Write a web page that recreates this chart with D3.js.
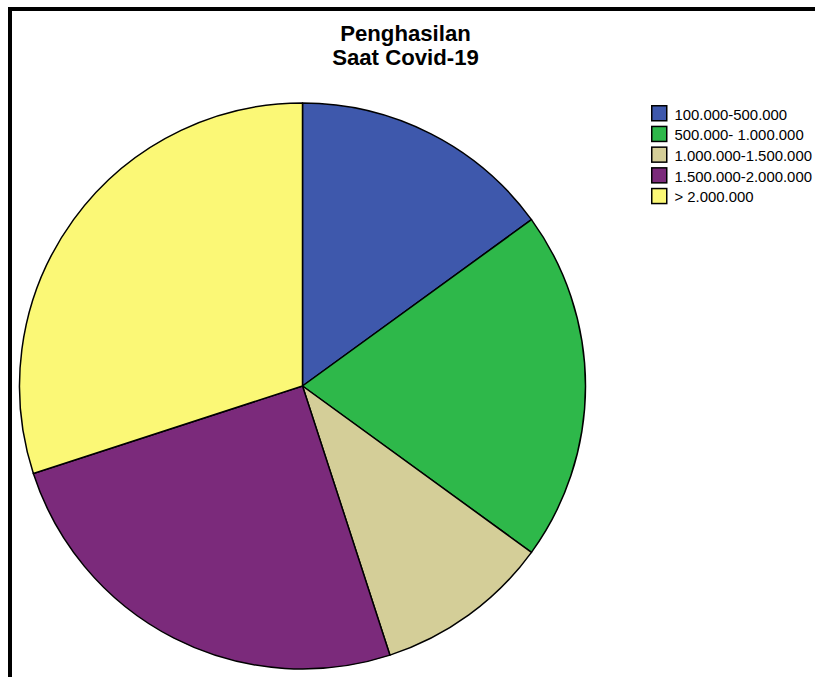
<!DOCTYPE html>
<html>
<head>
<meta charset="utf-8">
<script src="https://cdn.jsdelivr.net/npm/d3@7"></script>
<style>
html,body{margin:0;padding:0;background:#fff;}
svg{display:block;}
</style>
</head>
<body>
<svg id="chart" width="815" height="677"></svg>
<script>
const titleLines = ["Penghasilan", "Saat Covid-19"];
const categories = ["100.000-500.000", "500.000- 1.000.000", "1.000.000-1.500.000", "1.500.000-2.000.000", "> 2.000.000"];
const values = [15, 20, 10, 25, 30];
const colors = ["#3e58ac", "#2eb84a", "#d4ce98", "#7b2a7b", "#fbf876"];

const svg = d3.select("#chart");
const font = "Liberation Sans, Arial, Helvetica, sans-serif";

// frame
svg.append("rect")
  .attr("x", 10).attr("y", 9)
  .attr("width", 900).attr("height", 800)
  .attr("fill", "none").attr("stroke", "#000").attr("stroke-width", 4);

// title
const title = svg.append("text")
  .attr("x", 405.5).attr("y", 40.7)
  .attr("text-anchor", "middle")
  .attr("font-family", font).attr("font-weight", "bold").attr("font-size", "22.2px")
  .attr("fill", "#000");
title.selectAll("tspan").data(titleLines).join("tspan")
  .attr("x", 405.5).attr("dy", (d, i) => i === 0 ? 0 : 24.6)
  .text(d => d);

// pie
const cx = 302.5, cy = 386, r = 283;
const pie = d3.pie().sort(null).value(d => d)(values);
const arc = d3.arc().innerRadius(0).outerRadius(r);
const color = d3.scaleOrdinal().domain(categories).range(colors);

svg.append("g").attr("transform", `translate(${cx},${cy})`)
  .selectAll("path").data(pie).join("path")
  .attr("d", arc)
  .attr("fill", (d, i) => color(categories[i]))
  .attr("stroke", "#000").attr("stroke-width", 1.5).attr("stroke-linejoin", "round");

// legend
const lg = svg.append("g").attr("transform", "translate(651,105)");
const rows = lg.selectAll("g").data(categories).join("g")
  .attr("transform", (d, i) => `translate(0,${i * 20.7})`);
rows.append("rect")
  .attr("x", 0.75).attr("y", 0.75).attr("width", 15).attr("height", 15)
  .attr("fill", d => color(d)).attr("stroke", "#000").attr("stroke-width", 1.5);
rows.append("text")
  .attr("x", 23.5).attr("y", 14.5)
  .attr("font-family", font).attr("font-size", "14.9px").attr("fill", "#000")
  .text(d => d);
</script>
</body>
</html>
